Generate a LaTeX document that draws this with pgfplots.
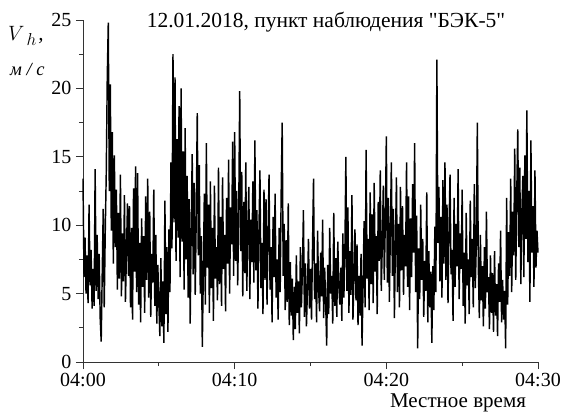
\documentclass[border=0pt]{standalone}
\usepackage{fontspec}
\setmainfont{Liberation Serif}
\newfontfamily\plainserif{Liberation Serif}
\usepackage{pgfplots}
\usepackage{pgfplotstable}
\pgfplotsset{compat=1.18}

% wind speed, one sample every 4 s from 04:00 (column v, m/s)
\pgfplotstableread{
v
13.4
6.2
9.1
5.0
7.8
4.3
11.5
5.6
8.2
3.9
6.8
4.1
14.1
5.2
9.3
4.6
7.9
3.2
1.5
6.4
11.2
4.0
9.5
13.8
20.8
24.8
12.5
20.3
9.6
16.8
7.2
15.1
8.4
12.6
5.3
10.9
6.1
13.7
4.8
9.4
5.9
12.2
4.4
8.1
11.6
6.3
11.4
4.0
9.8
3.1
12.7
6.6
14.3
5.1
13.8
4.2
8.7
2.9
10.5
5.5
9.2
3.6
12.1
6.0
13.4
4.7
11.0
3.3
7.9
5.8
12.6
4.1
9.3
2.8
7.1
4.3
1.9
7.6
2.6
5.9
1.4
11.8
3.5
8.4
2.2
9.7
5.1
14.6
8.3
22.5
10.2
20.8
7.4
16.3
9.1
18.7
6.2
20.0
8.8
15.4
5.3
17.1
7.5
13.6
4.7
11.9
2.8
9.6
15.2
6.4
13.1
4.9
10.7
18.2
7.8
14.4
5.0
9.2
1.1
6.5
12.3
4.2
16.0
6.9
11.5
3.6
13.2
5.4
9.8
3.0
12.9
6.1
8.4
4.5
14.2
5.7
10.6
4.1
13.5
6.8
9.3
3.7
12.0
7.2
14.8
5.0
11.3
8.6
16.1
6.3
16.8
7.4
12.5
5.6
10.8
19.8
8.1
13.9
4.8
11.7
6.5
14.6
5.2
9.9
12.8
4.6
10.4
7.3
13.2
5.8
16.2
6.7
11.1
3.9
9.5
14.0
5.4
8.7
3.5
12.6
6.0
11.9
4.2
9.1
13.7
5.3
8.4
2.9
10.6
6.2
12.3
4.7
7.5
3.1
9.8
5.1
12.4
17.5
6.3
10.1
3.8
8.9
4.4
11.6
2.7
7.3
3.4
6.1
1.6
5.5
2.4
7.8
3.6
5.9
2.1
8.4
4.0
6.6
11.1
3.3
7.2
2.6
5.4
9.0
3.9
6.8
3.1
8.5
13.4
4.6
7.2
2.9
9.6
5.3
3.7
8.0
4.8
10.4
3.2
6.9
4.4
1.2
7.1
3.5
9.8
5.0
6.3
2.8
10.9
4.1
7.6
3.3
8.8
5.6
4.2
6.9
3.0
9.4
4.7
7.8
15.0
5.2
11.3
3.6
8.1
4.9
12.2
3.1
6.4
9.7
4.5
8.6
2.7
6.3
3.4
7.9
1.2
5.6
10.3
4.0
15.5
6.1
9.0
3.8
12.4
5.7
10.8
4.3
13.1
6.6
9.2
3.5
11.7
7.4
14.0
5.2
8.5
12.9
6.0
10.3
16.5
5.8
12.0
4.4
9.6
14.6
6.3
11.2
3.2
8.7
13.5
5.1
10.1
4.0
12.8
6.7
11.4
4.9
9.3
7.0
14.6
5.5
12.1
3.8
10.5
6.2
13.0
8.0
16.0
5.1
10.7
1.0
8.3
4.6
11.5
6.0
9.0
3.3
7.4
5.2
12.4
2.9
8.1
4.0
6.6
1.4
7.0
3.8
9.9
5.1
22.1
8.7
12.8
5.9
10.6
4.7
13.3
7.2
14.6
6.0
11.5
4.3
9.8
13.7
6.4
8.2
3.0
12.0
5.5
10.1
7.0
14.1
4.6
9.4
6.8
12.6
4.1
8.0
2.8
10.9
5.6
7.5
3.5
11.8
6.2
9.0
4.0
13.0
5.4
8.6
17.5
6.8
3.2
9.3
4.5
7.0
2.6
8.4
3.9
11.0
5.1
6.2
2.4
7.8
3.6
6.5
2.2
8.1
3.4
5.7
1.9
7.2
4.4
9.6
2.9
6.0
3.1
5.2
1.0
12.0
4.2
9.5
6.3
13.4
5.1
11.0
7.8
15.6
6.0
12.3
17.0
8.4
14.2
5.7
10.8
13.6
6.2
15.1
9.0
18.4
7.3
12.5
4.4
16.2
8.0
11.4
5.5
14.0
6.9
9.6
8.0
}\windtable

\begin{document}
\begin{tikzpicture}[x=1pt,y=1pt]
\useasboundingbox (-83,-54) rectangle (478,362);
\begin{axis}[
  at={(0,0)}, anchor=south west,
  scale only axis,
  width=455pt, height=342pt,
  xmin=0, xmax=30, ymin=0, ymax=25,
  axis x line=bottom, axis y line=left,
  axis line style={-, line width=0.8pt, black!80},
  tick align=outside,
  major tick length=7pt, minor tick length=4pt,
  every tick/.style={black!80, line width=0.8pt},
  xtick={0,10,20,30},
  xticklabels={04:00,04:10,04:20,04:30},
  minor xtick={5,15,25},
  ytick={0,5,10,15,20,25},
  minor ytick={2.5,7.5,12.5,17.5,22.5},
  /pgf/number format/assume math mode=true,
  ticklabel style={font=\fontsize{20}{24}\selectfont},
  xticklabel style={yshift=-1pt},
  yticklabel style={xshift=-1pt},
  clip=false,
]
\addplot[black, line width=1.45pt, line join=miter, miter limit=3] table[x expr=\coordindex*4/60, y=v] {\windtable};
\end{axis}
\node[anchor=base, font=\plainserif\fontsize{21.5}{26}\selectfont, inner sep=0pt] at (243,335) {12.01.2018, пункт наблюдения "БЭК-5"};
\node[anchor=base west, font=\fontsize{21}{24}\selectfont\itshape, inner sep=0pt] at (-75,322) {$V$\raisebox{-5pt}{\kern2pt\fontsize{17}{20}\selectfont$h$}\kern2pt,};
\node[anchor=base west, font=\fontsize{18.5}{22}\selectfont\itshape, inner sep=0pt] at (-73,287) {м / с};
\node[anchor=base, font=\fontsize{21}{25}\selectfont, inner sep=0pt] at (375,-45) {Местное время};
\end{tikzpicture}
\end{document}
